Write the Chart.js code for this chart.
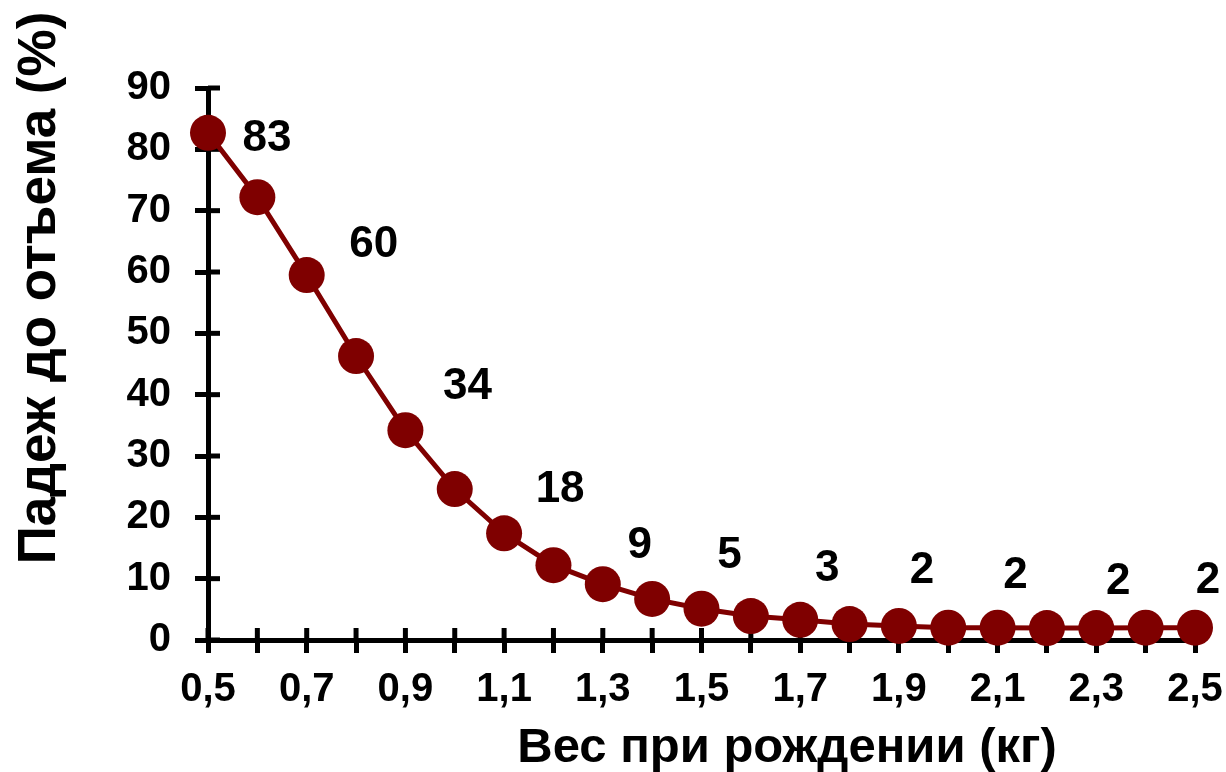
<!DOCTYPE html>
<html>
<head>
<meta charset="utf-8">
<script src="https://cdn.jsdelivr.net/npm/chart.js@4"></script>
<style>
  html, body { margin: 0; padding: 0; background: #ffffff; }
  #wrap { width: 1226px; height: 772px; position: relative; }
</style>
</head>
<body>
<div id="wrap"><canvas id="c"></canvas></div>
<script>
// ---- data ----
const birthWeights = [0.5, 0.6, 0.7, 0.8, 0.9, 1.0, 1.1, 1.2, 1.3, 1.4, 1.5, 1.6, 1.7, 1.8, 1.9, 2.0, 2.1, 2.2, 2.3, 2.4, 2.5];
const mortality = [82.7, 72.2, 59.5, 46.3, 34.2, 24.6, 17.4, 12.2, 9.1, 6.7, 5.1, 3.9, 3.3, 2.6, 2.3, 2.0, 2.0, 1.95, 1.95, 2.0, 2.0];
const pointLabels = ['83', null, '60', null, '34', null, '18', null, '9', null, '5', null, '3', null, '2', null, '2', null, '2', null, '2'];
const yTicks = [0, 10, 20, 30, 40, 50, 60, 70, 80, 90];
const xTitle = 'Вес при рождении (кг)';
const yTitle = 'Падеж до отъема (%)';

// ---- styles ----
const FONT = '"Liberation Sans", Arial, sans-serif';
const RED = '#7f0000';
const AXIS_W = 5;
const labelOffsets = [[59,2],null,[67,-34],null,[62,-47],null,[56,-47],null,[37,-42],null,[28,-56],null,[27,-55],null,[23,-59],null,[18,-55],null,[22,-50],null,[13,-50]];

const innerTicks = {
  id: 'innerTicks',
  beforeDatasetsDraw(chart) {
    const ctx = chart.ctx, xs = chart.scales.x, ys = chart.scales.y;
    const L = 12;
    ctx.save();
    ctx.strokeStyle = '#000';
    ctx.lineWidth = AXIS_W;
    ctx.lineCap = 'butt';
    xs.ticks.forEach(t => {
      const px = xs.getPixelForValue(t.value);
      ctx.beginPath(); ctx.moveTo(px, ys.bottom); ctx.lineTo(px, ys.bottom - L); ctx.stroke();
    });
    ys.ticks.forEach(t => {
      const py = ys.getPixelForValue(t.value);
      ctx.beginPath(); ctx.moveTo(xs.left, py); ctx.lineTo(xs.left + L, py); ctx.stroke();
    });
    ctx.restore();
  }
};

const valueLabels = {
  id: 'valueLabels',
  afterDatasetsDraw(chart) {
    const ctx = chart.ctx;
    const meta = chart.getDatasetMeta(0);
    ctx.save();
    ctx.fillStyle = '#000';
    ctx.font = 'bold 44px ' + FONT;
    ctx.textAlign = 'center';
    ctx.textBaseline = 'alphabetic';
    pointLabels.forEach((txt, i) => {
      if (txt === null) return;
      const p = meta.data[i];
      const off = labelOffsets[i];
      ctx.fillText(txt, p.x + off[0], p.y + off[1] + 0.358 * 44);
    });
    ctx.restore();
  }
};

const axisTitles = {
  id: 'axisTitles',
  afterDraw(chart) {
    const ctx = chart.ctx;
    ctx.save();
    ctx.fillStyle = '#000';
    ctx.textAlign = 'center';
    ctx.textBaseline = 'alphabetic';
    ctx.font = 'bold 49px ' + FONT;
    ctx.fillText(xTitle, 787, 762);
    ctx.font = 'bold 53px ' + FONT;
    ctx.translate(55, 288);
    ctx.rotate(-Math.PI / 2);
    ctx.fillText(yTitle, 0, 0);
    ctx.restore();
  }
};

new Chart(document.getElementById('c'), {
  type: 'line',
  data: {
    datasets: [{
      data: birthWeights.map((w, i) => ({ x: w, y: mortality[i] })),
      borderColor: RED,
      backgroundColor: RED,
      borderWidth: 5,
      pointRadius: 18,
      pointHoverRadius: 18,
      pointBackgroundColor: RED,
      pointBorderColor: RED,
      pointBorderWidth: 0,
      tension: 0,
      clip: false
    }]
  },
  options: {
    responsive: true,
    maintainAspectRatio: false,
    animation: false,
    events: [],
    layout: { padding: { top: 88, right: 31, left: 0, bottom: 0 } },
    plugins: { legend: { display: false }, tooltip: { enabled: false } },
    scales: {
      x: {
        type: 'linear',
        min: 0.5,
        max: 2.5,
        afterBuildTicks(scale) { scale.ticks = birthWeights.map(v => ({ value: v })); },
        afterFit(scale) { scale.height = 132; scale.paddingLeft = 0; scale.paddingRight = 0; },
        border: { display: true, color: '#000', width: AXIS_W },
        grid: { display: true, drawOnChartArea: false, drawTicks: true, tickLength: 13, tickWidth: AXIS_W, tickColor: '#000' },
        ticks: {
          autoSkip: false,
          maxRotation: 0,
          minRotation: 0,
          padding: 13,
          color: '#000',
          font: { family: FONT, size: 40, weight: 'bold' },
          callback(value, index) { return index % 2 === 0 ? Number(value).toFixed(1).replace('.', ',') : ''; }
        }
      },
      y: {
        min: 0,
        max: 90,
        afterBuildTicks(scale) { scale.ticks = yTicks.map(v => ({ value: v })); },
        afterFit(scale) { scale.width = 208; scale.paddingTop = 0; scale.paddingBottom = 0; },
        border: { display: true, color: '#000', width: AXIS_W },
        grid: { display: true, drawOnChartArea: false, drawTicks: true, tickLength: 13, tickWidth: AXIS_W, tickColor: '#000' },
        ticks: {
          padding: 24,
          color: '#000',
          font: { family: FONT, size: 40, weight: 'bold' },
          callback(value) { return String(value); }
        }
      }
    }
  },
  plugins: [innerTicks, valueLabels, axisTitles]
});
</script>
</body>
</html>
